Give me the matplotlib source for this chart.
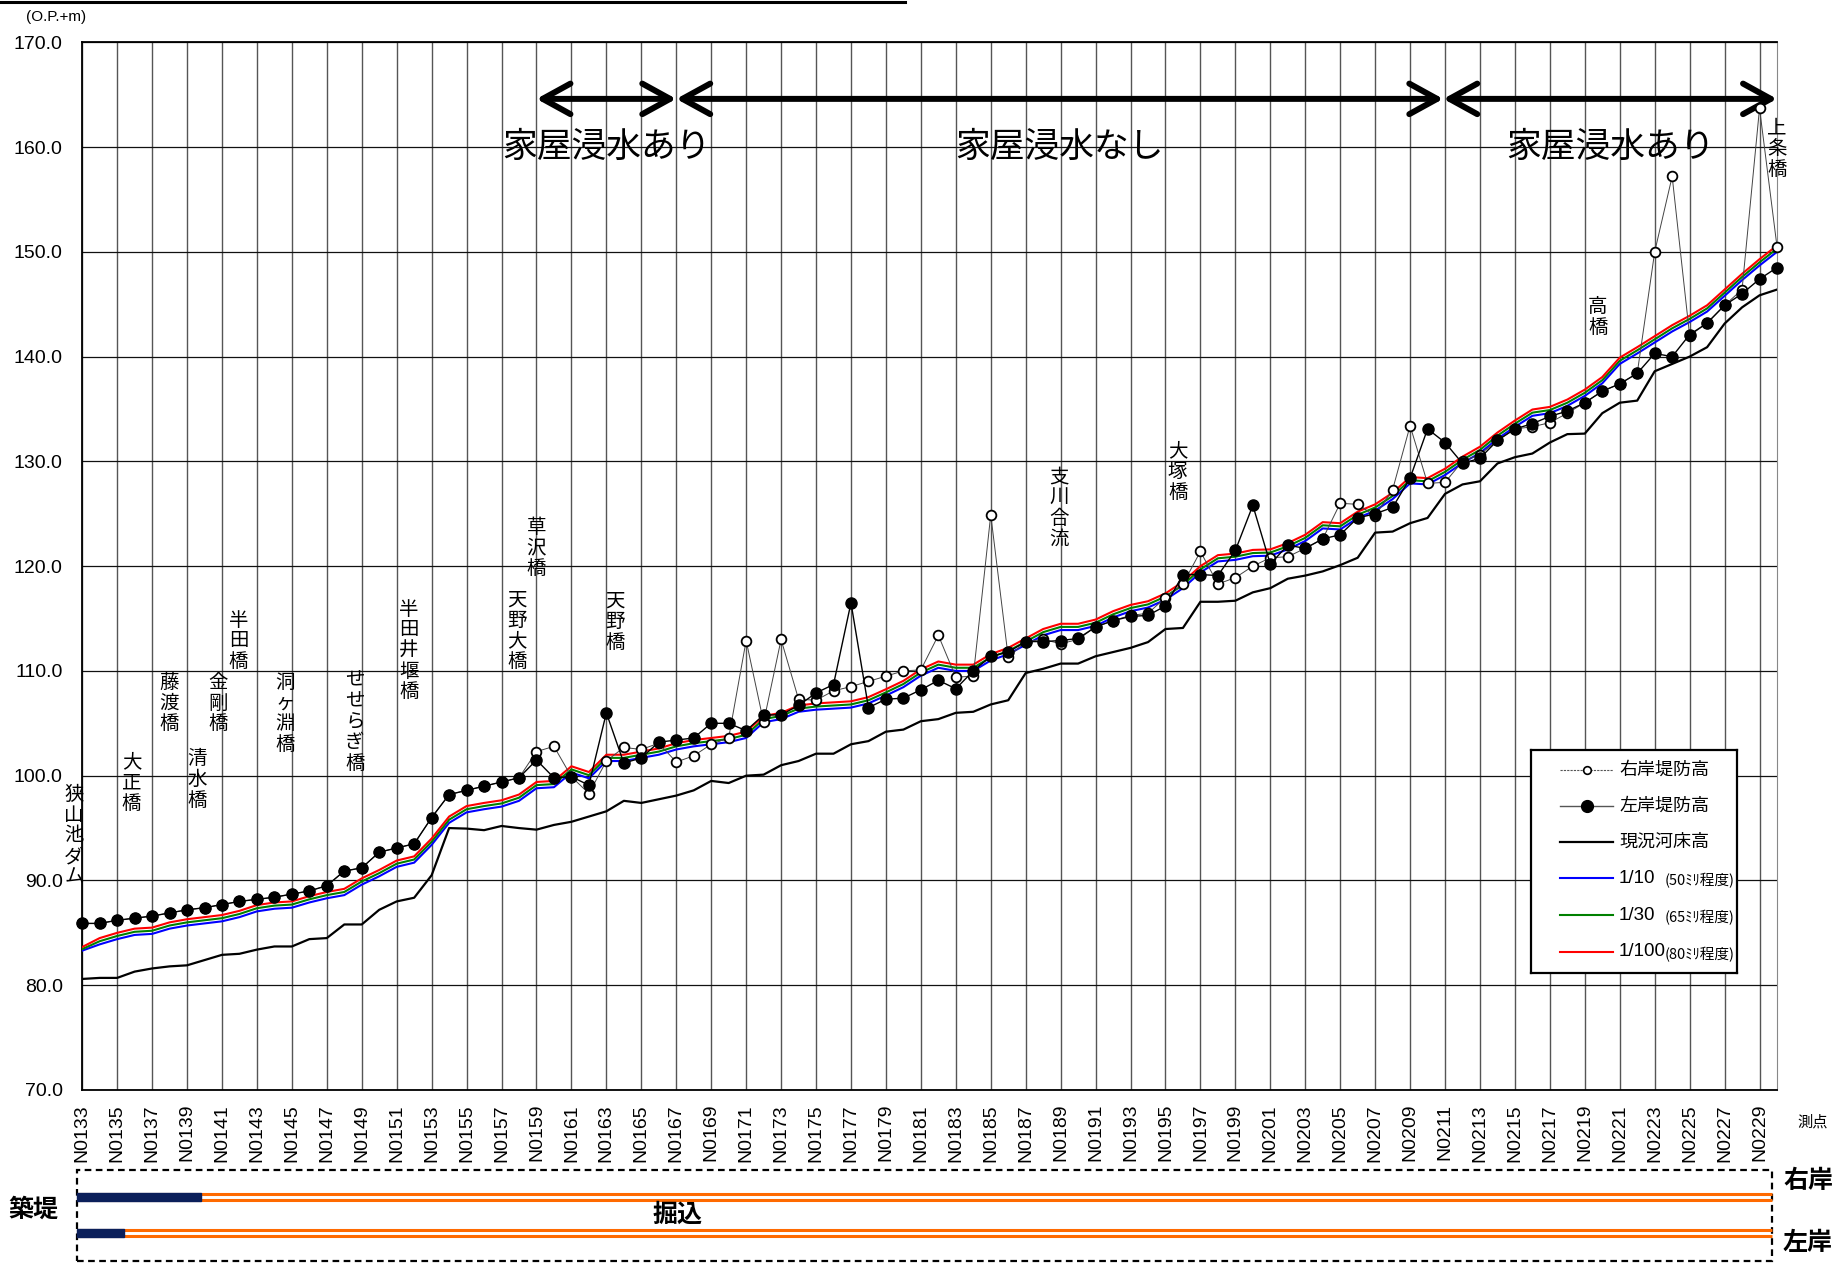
import numpy as np
import matplotlib
matplotlib.use('Agg')
import matplotlib.pyplot as plt
from matplotlib import font_manager
from matplotlib.patches import Rectangle
from matplotlib.lines import Line2D

plt.rcParams['font.family'] = ['Noto Sans CJK JP', 'DejaVu Sans']

_names = {f.name for f in font_manager.fontManager.ttflist}
NARROW = 'Liberation Sans Narrow' if 'Liberation Sans Narrow' in _names else 'Liberation Sans'

# 測点 N0133 ～ N0230
stations = ['N%04d' % n for n in range(133, 231)]

# 右岸堤防高
right_bank = [85.9, 85.9, 86.2, 86.4, 86.6, 86.9, 87.2, 87.4, 87.7, 88.0,
              88.2, 88.4, 88.7, 89.0, 89.5, 90.9, 91.2, 92.7, 93.1, 93.5,
              96.0, 98.2, 98.6, 99.0, 99.4, 99.8, 102.3, 102.8, 99.9, 98.3,
              101.4, 102.7, 102.5, 103.1, 101.3, 101.9, 103.0, 103.6, 112.9, 105.1,
              113.0, 107.3, 107.2, 108.1, 108.5, 109.0, 109.5, 110.0, 110.1, 113.4,
              109.4, 109.5, 124.9, 111.3, 112.8, 113.0, 112.6, 113.0, 114.2, 114.8,
              115.3, 115.5, 117.0, 118.3, 121.4, 118.3, 118.9, 120.0, 120.8, 120.9,
              121.7, 122.6, 126.0, 125.9, 124.8, 127.3, 133.4, 127.9, 128.0, 130.0,
              130.65, 132.0, 133.1, 133.3, 133.7, 134.6, 135.6, 136.7, 137.4, 138.4,
              150.0, 157.2, 142.0, 143.2, 144.9, 146.4, 163.7, 150.5]

# 左岸堤防高
left_bank = [85.9, 85.9, 86.2, 86.4, 86.6, 86.9, 87.2, 87.4, 87.7, 88.0,
             88.2, 88.4, 88.7, 89.0, 89.5, 90.9, 91.2, 92.7, 93.1, 93.5,
             96.0, 98.2, 98.6, 99.0, 99.4, 99.8, 101.5, 99.8, 99.9, 99.1,
             106.0, 101.2, 101.7, 103.2, 103.4, 103.6, 105.0, 105.0, 104.3, 105.8,
             105.8, 106.7, 107.9, 108.7, 116.5, 106.5, 107.3, 107.4, 108.2, 109.1,
             108.3, 110.0, 111.4, 111.8, 112.8, 112.8, 112.9, 113.1, 114.2, 114.8,
             115.2, 115.3, 116.2, 119.2, 119.2, 119.1, 121.5, 125.8, 120.2, 122.0,
             121.7, 122.6, 123.0, 124.6, 125.0, 125.6, 128.4, 133.1, 131.8, 129.8,
             130.3, 132.0, 133.1, 133.6, 134.3, 134.8, 135.6, 136.7, 137.4, 138.4,
             140.3, 140.0, 142.1, 143.2, 144.9, 146.0, 147.4, 148.5]

# 現況河床高
riverbed = [80.6, 80.7, 80.7, 81.3, 81.6, 81.8, 81.9, 82.4, 82.9, 83.0,
            83.4, 83.7, 83.7, 84.4, 84.5, 85.8, 85.8, 87.2, 88.0, 88.35,
            90.5, 95.0, 94.95, 94.8, 95.2, 95.0, 94.85, 95.3, 95.6, 96.1,
            96.6, 97.6, 97.4, 97.75, 98.1, 98.6, 99.5, 99.3, 100.0, 100.1,
            101.0, 101.4, 102.1, 102.1, 103.0, 103.3, 104.2, 104.4, 105.2, 105.4,
            106.0, 106.1, 106.8, 107.2, 109.8, 110.2, 110.7, 110.7, 111.4, 111.8,
            112.2, 112.75, 114.0, 114.1, 116.6, 116.6, 116.7, 117.5, 117.9, 118.8,
            119.1, 119.5, 120.1, 120.8, 123.2, 123.3, 124.1, 124.6, 126.9, 127.8,
            128.1, 129.8, 130.4, 130.75, 131.8, 132.6, 132.65, 134.6, 135.6, 135.8,
            138.6, 139.3, 140.0, 140.9, 143.15, 144.7, 145.85, 146.4]

# 計算水位 1/10 (50ﾐﾘ程度)
wl_10 = [83.3, 83.9, 84.4, 84.8, 84.9, 85.4, 85.7, 85.9, 86.1, 86.5,
         87.05, 87.3, 87.4, 87.9, 88.3, 88.6, 89.6, 90.4, 91.3, 91.7,
         93.4, 95.5, 96.5, 96.8, 97.05, 97.6, 98.8, 98.9, 100.3, 99.75,
         101.4, 101.4, 101.7, 102.0, 102.5, 102.8, 103.0, 103.2, 103.6, 105.1,
         105.4, 106.1, 106.3, 106.4, 106.5, 106.9, 107.65, 108.45, 109.55, 110.3,
         110.0, 110.0, 111.0, 111.6, 112.5, 113.4, 113.9, 113.9, 114.3, 115.1,
         115.7, 116.05, 116.8, 117.9, 119.4, 120.45, 120.6, 120.95, 121.0, 121.6,
         122.4, 123.6, 123.5, 124.6, 125.3, 126.4, 127.9, 127.8, 128.7, 129.85,
         130.8, 132.15, 133.3, 134.35, 134.6, 135.3, 136.25, 137.45, 139.3, 140.3,
         141.35, 142.4, 143.3, 144.3, 145.8, 147.3, 148.7, 150.0]

# 計算水位 1/30 (65ﾐﾘ程度)
wl_30 = [83.45, 84.2, 84.7, 85.1, 85.2, 85.7, 86.0, 86.2, 86.4, 86.8,
         87.35, 87.6, 87.7, 88.2, 88.6, 88.9, 89.9, 90.7, 91.6, 92.0,
         93.7, 95.8, 96.8, 97.1, 97.35, 97.9, 99.1, 99.2, 100.6, 100.05,
         101.7, 101.7, 102.0, 102.3, 102.8, 103.1, 103.3, 103.5, 103.9, 105.4,
         105.7, 106.4, 106.6, 106.7, 106.8, 107.2, 107.95, 108.75, 109.85, 110.6,
         110.3, 110.3, 111.3, 111.9, 112.8, 113.7, 114.2, 114.2, 114.6, 115.4,
         116.0, 116.35, 117.1, 118.2, 119.7, 120.75, 120.9, 121.25, 121.3, 121.9,
         122.7, 123.9, 123.8, 124.9, 125.6, 126.7, 128.2, 128.1, 129.0, 130.15,
         131.1, 132.45, 133.6, 134.65, 134.9, 135.6, 136.55, 137.75, 139.6, 140.6,
         141.65, 142.7, 143.6, 144.6, 146.1, 147.6, 149.0, 150.3]

# 計算水位 1/100 (80ﾐﾘ程度)
wl_100 = [83.65, 84.5, 85.0, 85.4, 85.5, 86.0, 86.3, 86.5, 86.7, 87.1,
          87.65, 87.9, 88.0, 88.5, 88.9, 89.2, 90.2, 91.0, 91.9, 92.3,
          94.0, 96.1, 97.1, 97.4, 97.65, 98.2, 99.4, 99.5, 100.9, 100.35,
          102.0, 102.0, 102.3, 102.6, 103.1, 103.4, 103.6, 103.8, 104.2, 105.7,
          106.0, 106.7, 106.9, 107.0, 107.1, 107.5, 108.25, 109.05, 110.15, 110.9,
          110.6, 110.6, 111.6, 112.2, 113.1, 114.0, 114.5, 114.5, 114.9, 115.7,
          116.3, 116.65, 117.4, 118.5, 120.0, 121.05, 121.2, 121.55, 121.6, 122.2,
          123.0, 124.2, 124.1, 125.2, 125.9, 127.0, 128.5, 128.4, 129.3, 130.45,
          131.4, 132.75, 133.9, 134.95, 135.2, 135.9, 136.85, 138.05, 139.9, 140.9,
          141.95, 143.0, 143.9, 144.9, 146.4, 147.9, 149.3, 150.6]

# 橋梁・地点名 (名称, 測点位置, 文字上端の標高)
landmarks = [('狭山池ダム', -0.47, 99.2), ('大正橋', 2.82, 102.3), ('藤渡橋', 4.98, 109.9),
             ('清水橋', 6.59, 102.6), ('金剛橋', 7.8, 109.9), ('半田橋', 8.94, 115.85),
             ('洞ヶ淵橋', 11.63, 109.9), ('せせらぎ橋', 15.6, 110.1), ('半田井堰橋', 18.7, 116.9),
             ('天野大橋', 24.9, 117.8), ('草沢橋', 26.0, 124.7), ('天野橋', 30.5, 117.65),
             ('支川合流', 55.9, 129.5), ('大塚橋', 62.7, 132.0), ('高橋', 86.75, 145.8),
             ('上条橋', 97.0, 162.8)]

# 家屋浸水の区間 (始点, 終点, ラベル)
zones = [(26.0, 34.0, '家屋浸水あり'), (34.0, 77.9, '家屋浸水なし'), (77.9, 97.0, '家屋浸水あり')]

# 築堤区間の終点 (測点位置)
levee_right_end = 6.8
levee_left_end = 2.4

W_PX, H_PX = 1842, 1267
fig = plt.figure(figsize=(W_PX / 100, H_PX / 100), dpi=100)

L = 82.2 / W_PX
R = 1777.0 / W_PX
ax = fig.add_axes([L, 1 - 1090 / H_PX, R - L, (1090 - 42.3) / H_PX])

x = np.arange(len(stations))
ax.set_xlim(0, len(stations) - 1)
ax.set_ylim(70, 170)

ax.set_xticks(x[::2])
ax.set_xticklabels(stations[::2], rotation=90, fontsize=14, family=NARROW)
yt = np.arange(70, 171, 10)
ax.set_yticks(yt)
ax.set_yticklabels(['%.1f' % v for v in yt], fontsize=14, family=NARROW)
ax.tick_params(axis='x', length=0, pad=10)
ax.tick_params(axis='y', length=0, pad=14)
ax.grid(True, axis='y', color='#111111', lw=0.9)
ax.grid(True, axis='x', color='#555555', lw=1.0)
for s in ['left', 'bottom', 'top']:
    ax.spines[s].set_linewidth(1.3)
    ax.spines[s].set_color('black')
ax.spines['right'].set_color('#888888')

ax.plot(x, riverbed, color='black', lw=1.6, zorder=3)
ax.plot(x, wl_10, color='#0000ff', lw=1.5, zorder=3)
ax.plot(x, wl_30, color='#008000', lw=1.5, zorder=3)
ax.plot(x, wl_100, color='#ff0000', lw=1.5, zorder=3)
ax.plot(x, right_bank, color='#444444', lw=0.7, marker='o', ms=7, mfc='white',
        mec='black', mew=1.3, zorder=4, clip_on=False)
ax.plot(x, left_bank, color='black', lw=1.0, marker='o', ms=8, mfc='black',
        mec='black', zorder=5, clip_on=False)

for name, px, top in landmarks:
    ax.text(px, top, '\n'.join(name), ha='center', va='top', fontsize=14,
            linespacing=0.98, zorder=6)

for x0, x1, label in zones:
    ax.annotate('', xy=(x1, 164.6), xytext=(x0, 164.6),
                arrowprops=dict(arrowstyle='<->,head_length=1.0,head_width=0.55',
                                lw=4.3, color='black', shrinkA=0, shrinkB=0,
                                mutation_scale=20), annotation_clip=False)
    ax.text((x0 + x1) / 2, 160.0, label, ha='center', va='center', fontsize=25)

# 凡例
lax = fig.add_axes([1531 / W_PX, 1 - 973 / H_PX, 206 / W_PX, 223 / H_PX])
lax.set_xlim(0, 206)
lax.set_ylim(223, 0)
lax.set_xticks([])
lax.set_yticks([])
for s in lax.spines.values():
    s.set_linewidth(1.6)
rows = [20, 56, 92, 128, 165, 202]
lax.plot([29, 82], [rows[0]] * 2, color='#555555', lw=0.8, ls=(0, (2, 1)))
lax.plot([56], [rows[0]], marker='o', ms=5.5, mfc='white', mec='black', mew=1.2)
lax.plot([29, 82], [rows[1]] * 2, color='#555555', lw=1.0)
lax.plot([56], [rows[1]], marker='o', ms=8.5, color='black')
lax.plot([29, 82], [rows[2]] * 2, color='black', lw=1.6)
lax.plot([29, 82], [rows[3]] * 2, color='#0000ff', lw=1.5)
lax.plot([29, 82], [rows[4]] * 2, color='#008000', lw=1.5)
lax.plot([29, 82], [rows[5]] * 2, color='#ff0000', lw=1.5)
for r, t in zip(rows[:3], ['右岸堤防高', '左岸堤防高', '現況河床高']):
    lax.text(88, r, t, va='center', fontsize=13)
for r, t, sub in zip(rows[3:], ['1/10', '1/30', '1/100'],
                     ['(50ﾐﾘ程度)', '(65ﾐﾘ程度)', '(80ﾐﾘ程度)']):
    lax.text(88, r, t, va='center', fontsize=13.5, family='Liberation Sans')
    lax.text(134, r + 3, sub, va='center', fontsize=10.5)

# 築堤・掘込区分
bax = fig.add_axes([L, 0, R - L, 100 / H_PX])
bax.set_xlim(0, len(stations) - 1)
bax.set_ylim(0, 100)
bax.axis('off')
bax.add_patch(Rectangle((-0.27, 6), 96.97, 91, fill=False, ls=(0, (3, 2)),
                        lw=1.6, ec='black', clip_on=False))
for y0, end in [(70, levee_right_end), (34.5, levee_left_end)]:
    bax.plot([-0.27, 96.7], [y0 + 3] * 2, color='#ff6a00', lw=2.2, clip_on=False,
             solid_capstyle='butt')
    bax.plot([-0.27, 96.7], [y0 - 3] * 2, color='#ff6a00', lw=2.2, clip_on=False,
             solid_capstyle='butt')
    bax.add_patch(Rectangle((-0.27, y0 - 4), end + 0.27, 8, color='#0b1f5a',
                            clip_on=False, zorder=3))

fig.text(33 / W_PX, 1 - 1210 / H_PX, '築堤', fontsize=18, weight='bold',
         ha='center', va='center')
fig.text(678 / W_PX, 1 - 1215 / H_PX, '掘込', fontsize=18, weight='bold',
         ha='center', va='center')
fig.text(1808 / W_PX, 1 - 1181 / H_PX, '右岸', fontsize=18, weight='bold',
         ha='center', va='center')
fig.text(1808 / W_PX, 1 - 1243 / H_PX, '左岸', fontsize=18, weight='bold',
         ha='center', va='center')
fig.text(1813 / W_PX, 1 - 1122 / H_PX, '測点', fontsize=11, ha='center', va='center')
fig.text(26 / W_PX, 1 - 17 / H_PX, '(O.P.+m)', fontsize=11, va='center', family=NARROW)
fig.add_artist(Line2D([0, 905 / W_PX], [1 - 2 / H_PX] * 2, color='black', lw=2.2))

fig.savefig('out.png', dpi=100)
